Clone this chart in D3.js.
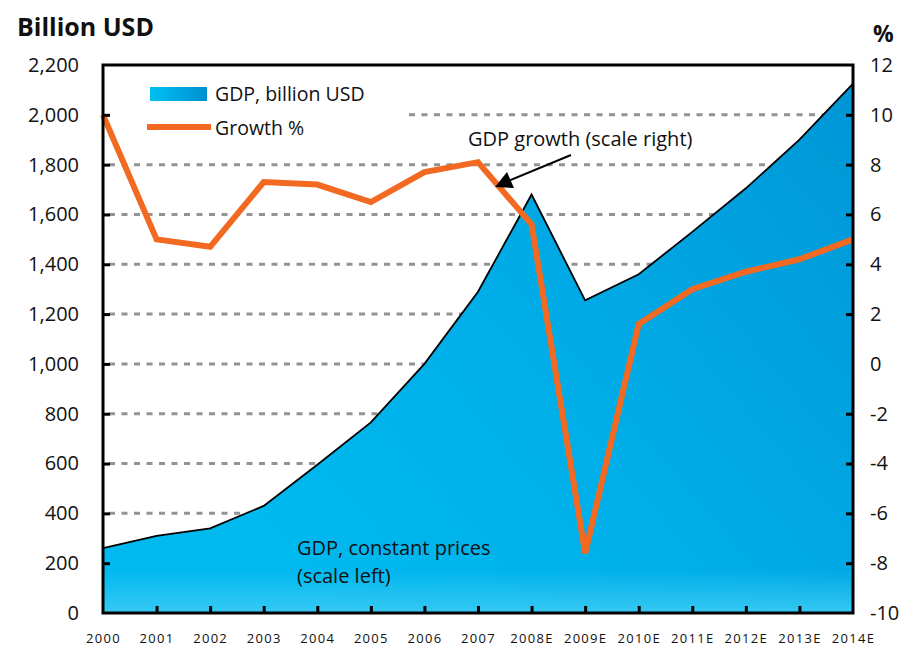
<!DOCTYPE html>
<html>
<head>
<meta charset="utf-8">
<script src="https://cdn.jsdelivr.net/npm/d3@7"></script>
<style>
  body { margin: 0; background: #fff; }
  text { font-family: "Open Sans", "Noto Sans", sans-serif; fill: #111; }
</style>
</head>
<body>
<svg id="chart" width="900" height="647"></svg>
<script>
// data
var years = ["2000", "2001", "2002", "2003", "2004", "2005", "2006", "2007",
             "2008E", "2009E", "2010E", "2011E", "2012E", "2013E", "2014E"];
var gdp = [260, 310, 340, 430, 595, 765, 1000, 1290, 1680, 1255, 1360, 1530, 1705, 1900, 2125];
var growth = [10.0, 5.0, 4.7, 7.3, 7.2, 6.5, 7.7, 8.1, 5.6, -7.6, 1.6, 3.0, 3.7, 4.2, 5.0];
var leftTicks = [0, 200, 400, 600, 800, 1000, 1200, 1400, 1600, 1800, 2000, 2200];
var rightTicks = [-10, -8, -6, -4, -2, 0, 2, 4, 6, 8, 10, 12];

// plot box (note: "top" is a reserved window prop, so use other names)
var plotL = 103, plotR = 853, plotT = 65, plotB = 613;

var svg = d3.select("#chart");

var x = d3.scalePoint().domain(years).range([plotL, plotR]);
var yL = d3.scaleLinear().domain([0, 2200]).range([plotB, plotT]);
var yR = d3.scaleLinear().domain([-10, 12]).range([plotB, plotT]);

var data = years.map(function (y, i) {
    return {year: y, gdp: gdp[i], growth: growth[i]};
});

// gradients
var defs = svg.append("defs");
var g1 = defs.append("linearGradient").attr("id", "areaGrad")
    .attr("gradientUnits", "userSpaceOnUse")
    .attr("x1", 300).attr("y1", 560).attr("x2", 853).attr("y2", 90);
g1.append("stop").attr("offset", 0).attr("stop-color", "#00b9ef");
g1.append("stop").attr("offset", 0.45).attr("stop-color", "#00ade8");
g1.append("stop").attr("offset", 1).attr("stop-color", "#0096d6");

var g2 = defs.append("linearGradient").attr("id", "bottomFade")
    .attr("gradientUnits", "userSpaceOnUse")
    .attr("x1", 0).attr("y1", 570).attr("x2", 0).attr("y2", plotB);
g2.append("stop").attr("offset", 0).attr("stop-color", "#3ccbf4").attr("stop-opacity", 0);
g2.append("stop").attr("offset", 1).attr("stop-color", "#3ccbf4").attr("stop-opacity", 0.9);

var g3 = defs.append("linearGradient").attr("id", "legGrad");
g3.append("stop").attr("offset", 0).attr("stop-color", "#00c0f2");
g3.append("stop").attr("offset", 1).attr("stop-color", "#0090d2");

// dashed gridlines
svg.append("g").selectAll("line")
    .data(leftTicks.filter(function (d) { return d > 0 && d < 2200; }))
    .enter().append("line")
    .attr("x1", plotL + 6).attr("x2", plotR)
    .attr("y1", function (d) { return yL(d); })
    .attr("y2", function (d) { return yL(d); })
    .attr("stroke", "#939393")
    .attr("stroke-width", 3)
    .attr("stroke-dasharray", "6,6.5");

// legend background (hides the grid behind the legend)
svg.append("rect")
    .attr("x", plotL + 6).attr("y", plotT + 2)
    .attr("width", 298).attr("height", 82)
    .attr("fill", "#fff");

// GDP area
var area = d3.area()
    .x(function (d) { return x(d.year); })
    .y0(plotB)
    .y1(function (d) { return yL(d.gdp); });
svg.append("path").datum(data).attr("d", area).attr("fill", "url(#areaGrad)");
svg.append("path").datum(data).attr("d", area).attr("fill", "url(#bottomFade)");

var topLine = d3.line()
    .x(function (d) { return x(d.year); })
    .y(function (d) { return yL(d.gdp); });
svg.append("path").datum(data).attr("d", topLine)
    .attr("fill", "none").attr("stroke", "#000").attr("stroke-width", 1.8);

// growth line
var growthLine = d3.line()
    .x(function (d) { return x(d.year); })
    .y(function (d) { return yR(d.growth); });
svg.append("path").datum(data).attr("d", growthLine)
    .attr("fill", "none").attr("stroke", "#f26a21")
    .attr("stroke-width", 6).attr("stroke-linejoin", "miter");

// frame
svg.append("rect")
    .attr("x", plotL).attr("y", plotT)
    .attr("width", plotR - plotL).attr("height", plotB - plotT)
    .attr("fill", "none").attr("stroke", "#000").attr("stroke-width", 3);

// axes
var axL = d3.axisLeft(yL).tickValues(leftTicks).tickSizeInner(-7).tickSizeOuter(0)
    .tickPadding(24).tickFormat(d3.format(","));
var axR = d3.axisRight(yR).tickValues(rightTicks).tickSizeInner(-7).tickSizeOuter(0)
    .tickPadding(17).tickFormat(function (d) { return d; });
var axB = d3.axisBottom(x).tickSizeInner(-7).tickSizeOuter(0).tickPadding(21);

function styleAxis(g, size) {
    g.select(".domain").remove();
    g.selectAll(".tick line").attr("stroke", "#000").attr("stroke-width", 3);
    g.selectAll(".tick text").attr("font-size", size).attr("fill", "#111")
        .attr("font-family", "'Open Sans', sans-serif");
}

svg.append("g").attr("transform", "translate(" + plotL + ",0)").call(axL)
    .call(styleAxis, 20);
svg.append("g").attr("transform", "translate(" + plotR + ",0)").call(axR)
    .call(styleAxis, 20);
var gb = svg.append("g").attr("transform", "translate(0," + plotB + ")").call(axB)
    .call(styleAxis, 13);
gb.selectAll(".tick text").attr("letter-spacing", 1.3);
gb.selectAll(".tick line").filter(function (d, i) { return i === 0 || i === years.length - 1; }).remove();
svg.selectAll(".tick").filter(function (d) { return d === 0 || d === 2200 || d === -10 || d === 12; })
    .select("line").remove();

// axis titles
svg.append("text").attr("x", 17).attr("y", 36)
    .attr("font-size", 25).attr("font-weight", "bold").text("Billion USD");
svg.append("text").attr("x", 873).attr("y", 42)
    .attr("font-size", 23).attr("font-weight", "bold").text("%");

// legend
svg.append("rect").attr("x", 150).attr("y", 87).attr("width", 57).attr("height", 14)
    .attr("fill", "url(#legGrad)");
svg.append("text").attr("x", 215).attr("y", 101).attr("font-size", 19.5).text("GDP, billion USD");
svg.append("line").attr("x1", 147).attr("x2", 211).attr("y1", 127).attr("y2", 127)
    .attr("stroke", "#f26a21").attr("stroke-width", 6);
svg.append("text").attr("x", 215).attr("y", 135).attr("font-size", 19.5).text("Growth %");

// annotations
svg.append("text").attr("x", 468).attr("y", 146).attr("font-size", 20)
    .text("GDP growth (scale right)");
svg.append("line").attr("x1", 571).attr("y1", 155).attr("x2", 508).attr("y2", 181)
    .attr("stroke", "#000").attr("stroke-width", 2);
svg.append("path").attr("d", "M495,187 L507,172 L514,188 Z").attr("fill", "#000");

svg.append("text").attr("x", 297).attr("y", 555).attr("font-size", 20)
    .text("GDP, constant prices");
svg.append("text").attr("x", 297).attr("y", 583).attr("font-size", 20)
    .text("(scale left)");
</script>
</body>
</html>
